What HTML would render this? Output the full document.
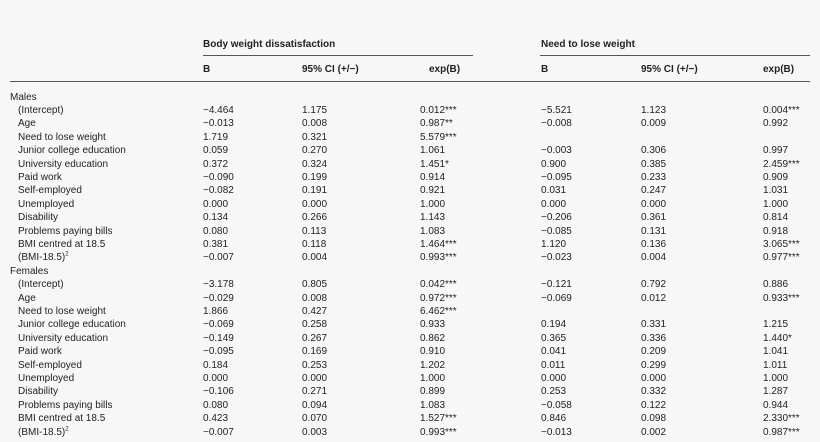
<!DOCTYPE html>
<html><head><meta charset="utf-8"><style>
html,body{margin:0;width:820px;height:442px;overflow:hidden}
body{background:#f7f7f7;font-family:"Liberation Sans",sans-serif;font-size:10px;color:#222;position:relative}
.r{position:absolute;left:0;width:820px;height:13px;line-height:13px;white-space:nowrap}
.r span{position:absolute}
.h{font-weight:bold}
.l{position:absolute;height:1px;background:#555}
sup{font-size:6px;line-height:0}
</style></head><body>
<div class="r h" style="top:38px"><span style="left:203px">Body weight dissatisfaction</span><span style="left:541px">Need to lose weight</span></div>
<div class="l" style="left:203px;width:270px;top:55px"></div>
<div class="l" style="left:540px;width:270px;top:55px"></div>
<div class="r h" style="top:63px"><span style="left:203px">B</span><span style="left:302px">95% CI (+/−)</span><span style="left:429px">exp(B)</span><span style="left:541px">B</span><span style="left:641px">95% CI (+/−)</span><span style="left:763px">exp(B)</span></div>
<div class="l" style="left:10px;width:800px;top:81px"></div>
<div id="t"></div>
<script>
var d=[["Males"],
["(Intercept)","−4.464","1.175","0.012***","−5.521","1.123","0.004***"],
["Age","−0.013","0.008","0.987**","−0.008","0.009","0.992"],
["Need to lose weight","1.719","0.321","5.579***","","",""],
["Junior college education","0.059","0.270","1.061","−0.003","0.306","0.997"],
["University education","0.372","0.324","1.451*","0.900","0.385","2.459***"],
["Paid work","−0.090","0.199","0.914","−0.095","0.233","0.909"],
["Self-employed","−0.082","0.191","0.921","0.031","0.247","1.031"],
["Unemployed","0.000","0.000","1.000","0.000","0.000","1.000"],
["Disability","0.134","0.266","1.143","−0.206","0.361","0.814"],
["Problems paying bills","0.080","0.113","1.083","−0.085","0.131","0.918"],
["BMI centred at 18.5","0.381","0.118","1.464***","1.120","0.136","3.065***"],
["(BMI-18.5)<sup>2</sup>","−0.007","0.004","0.993***","−0.023","0.004","0.977***"],
["Females"],
["(Intercept)","−3.178","0.805","0.042***","−0.121","0.792","0.886"],
["Age","−0.029","0.008","0.972***","−0.069","0.012","0.933***"],
["Need to lose weight","1.866","0.427","6.462***","","",""],
["Junior college education","−0.069","0.258","0.933","0.194","0.331","1.215"],
["University education","−0.149","0.267","0.862","0.365","0.336","1.440*"],
["Paid work","−0.095","0.169","0.910","0.041","0.209","1.041"],
["Self-employed","0.184","0.253","1.202","0.011","0.299","1.011"],
["Unemployed","0.000","0.000","1.000","0.000","0.000","1.000"],
["Disability","−0.106","0.271","0.899","0.253","0.332","1.287"],
["Problems paying bills","0.080","0.094","1.083","−0.058","0.122","0.944"],
["BMI centred at 18.5","0.423","0.070","1.527***","0.846","0.098","2.330***"],
["(BMI-18.5)<sup>2</sup>","−0.007","0.003","0.993***","−0.013","0.002","0.987***"]];
var xs=[203,302,420,541,641,763],h="";
d.forEach(function(r,i){var top=(90.5+i*13.4).toFixed(1);
h+='<div class="r" style="top:'+top+'px"><span style="left:'+(r.length==1?10:18)+'px">'+r[0]+'</span>';
for(var j=1;j<r.length;j++)h+='<span style="left:'+xs[j-1]+'px">'+r[j]+'</span>';
h+='</div>';});
document.getElementById("t").innerHTML=h;
</script>
</body></html>
